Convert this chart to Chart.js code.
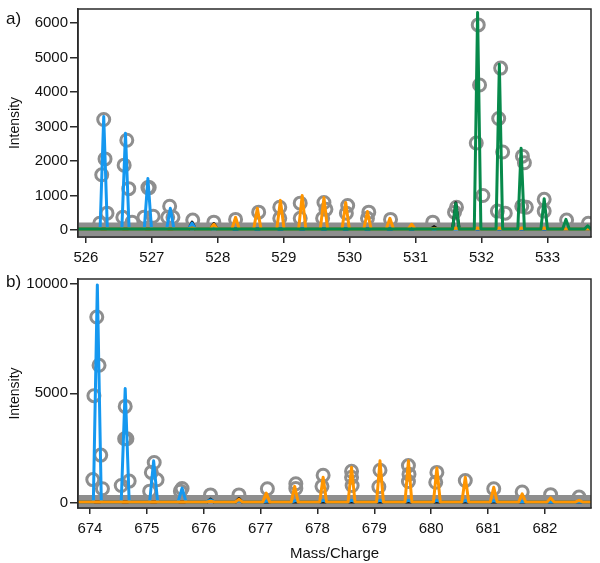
<!DOCTYPE html>
<html>
<head>
<meta charset="utf-8">
<script src="https://cdn.jsdelivr.net/npm/chart.js@4.4.0/dist/chart.umd.min.js"></script>
<style>
  body { margin: 0; background: #fff; }
  #wrap { position: relative; width: 600px; height: 563px; font-family: "Liberation Sans", Arial, sans-serif; }
  #wrap canvas { position: absolute; left: 0; }
  .tag { position: absolute; left: 6px; font-size: 17px; color: #111; line-height: 20px; }
</style>
</head>
<body>
<div id="wrap">
  <canvas id="chartA" width="600" height="270" style="top:0"></canvas>
  <canvas id="chartB" width="600" height="293" style="top:270px"></canvas>
  <div class="tag" style="top:9px">a)</div>
  <div class="tag" style="top:272px">b)</div>
</div>
<script>
// ---- panel a data ----
const xTicksA = [526, 527, 528, 529, 530, 531, 532, 533];
const yTicksA = [0, 1000, 2000, 3000, 4000, 5000, 6000];

// fitted isotope peaks (m/z, intensity)
const blueMzA = [526.27, 526.60, 526.94, 527.28, 527.61, 527.94];
const blueIntA = [3290, 2800, 1490, 630, 200, 60];
const orangeMzA = [527.61, 527.94, 528.27, 528.60, 528.95, 529.28, 529.61, 529.94, 530.27, 530.61, 530.94, 531.28, 531.61, 531.94, 532.27, 532.61, 532.95, 533.28, 533.61];
const orangeIntA = [60, 170, 370, 630, 860, 1000, 940, 800, 540, 340, 170, 50, 60, 60, 60, 60, 60, 40, 30];
const greenMzA = [531.61, 531.94, 532.27, 532.60, 532.95, 533.28, 533.61];
const greenIntA = [770, 6300, 4800, 2370, 910, 310, 120];
const blackMzA = [527.61, 527.94, 531.28, 531.61];
const blackIntA = [230, 190, 100, 790];

// observed points
const obsMzA = [526.21, 526.24, 526.27, 526.29, 526.32,
  526.56, 526.58, 526.62, 526.65, 526.70,
  526.88, 526.94, 526.96, 527.02,
  527.24, 527.27, 527.32, 527.62, 527.94,
  528.27, 528.62, 528.94, 528.94, 529.25, 529.25,
  529.59, 529.61, 529.64, 529.95, 529.97, 530.27, 530.29, 530.62, 531.26,
  531.59, 531.62, 531.92, 531.95, 531.97, 532.02,
  532.24, 532.26, 532.29, 532.32, 532.36,
  532.61, 532.62, 532.65, 532.68, 532.95, 532.95, 533.29, 533.62];
const obsIntA = [200, 1600, 3200, 2060, 490,
  370, 1880, 2600, 1200, 230,
  370, 1230, 1230, 400,
  370, 690, 370, 290, 230,
  310, 520, 660, 340, 780, 340,
  340, 800, 600, 490, 710, 340, 520, 310, 230,
  520, 660, 2520, 5940, 4200, 1000,
  550, 3230, 4690, 2260, 490,
  690, 2140, 1950, 660, 890, 550, 290, 200];

// ---- panel b data ----
const xTicksB = [674, 675, 676, 677, 678, 679, 680, 681, 682];
const yTicksB = [0, 5000, 10000];

const blueMzB = [674.13, 674.62, 675.12, 675.62, 676.12, 676.62, 677.12, 677.62, 678.10, 678.60, 679.10, 679.60, 680.10, 680.60, 681.10, 681.60];
const blueIntB = [9960, 5220, 1910, 660, 120, 80, 70, 90, 100, 100, 100, 100, 100, 90, 80, 50];
const orangeMzB = [676.12, 676.62, 677.10, 677.60, 678.10, 678.60, 679.10, 679.60, 680.10, 680.60, 681.10, 681.60, 682.10, 682.60];
const orangeIntB = [60, 150, 430, 740, 1160, 1610, 1910, 1910, 1580, 1160, 700, 400, 210, 100];
const blackMzB = [676.12, 676.62];
const blackIntB = [160, 180];

const obsMzB = [674.05, 674.07, 674.12, 674.16, 674.19, 674.22,
  674.55, 674.61, 674.62, 674.65, 674.69,
  675.05, 675.08, 675.13, 675.18, 675.59, 675.62,
  676.12, 676.62, 677.12, 677.62, 677.62,
  678.08, 678.10, 678.60, 678.60, 678.61,
  679.08, 679.10, 679.60, 679.61, 679.60,
  680.08, 680.10, 680.60, 681.10, 681.60, 682.10, 682.60];
const obsIntB = [1050, 4890, 8490, 6280, 2170, 630,
  780, 2920, 4400, 2920, 980,
  520, 1380, 1830, 1040, 520, 640,
  350, 350, 630, 860, 640,
  740, 1250, 1160, 1430, 780,
  720, 1480, 1690, 1300, 960,
  930, 1380, 1010, 630, 480, 360, 250];

const baseLevel = 30;

// build a trace: baseline with a narrow triangle at every peak
function peakTrace(mz, ints, hw, xmin, xmax) {
  const pts = [{ x: xmin, y: baseLevel }];
  mz.forEach((m, i) => {
    pts.push({ x: m - hw, y: baseLevel });
    pts.push({ x: m, y: ints[i] });
    pts.push({ x: m + hw, y: baseLevel });
  });
  pts.push({ x: xmax, y: baseLevel });
  return pts;
}

function toPoints(xs, ys) {
  return xs.map((x, i) => ({ x: x, y: ys[i] }));
}

const BLUE = "#1598f0";
const ORANGE = "#ff9500";
const GREEN = "#078a4b";
const GREY = "#8e8e8e";
const AXIS = "#2a2a2a";

Chart.defaults.font.family = '"Liberation Sans", Arial, sans-serif';
Chart.defaults.color = "#111";
Chart.defaults.animation = false;

// box around the plot area
const boxPlugin = {
  id: "box",
  afterDraw(chart) {
    const a = chart.chartArea;
    const ctx = chart.ctx;
    ctx.save();
    ctx.strokeStyle = AXIS;
    ctx.lineWidth = 1.5;
    ctx.strokeRect(a.left, a.top, a.right - a.left, a.bottom - a.top);
    ctx.restore();
  }
};

function lineSet(pts, color) {
  return {
    data: pts, showLine: true, borderColor: color, borderWidth: 3, pointRadius: 0,
    fill: false, tension: 0, borderJoinStyle: "round", borderCapStyle: "round"
  };
}

function makeChart(id, cfg) {
  const datasets = [];
  cfg.lines.forEach((l) => datasets.push(lineSet(l.pts, l.color)));
  // observed points
  datasets.push({
    data: cfg.obs, showLine: false, pointRadius: 6, pointBorderWidth: 3,
    pointBorderColor: GREY, pointBackgroundColor: "rgba(0,0,0,0)"
  });
  // dense baseline points appear as a thick grey band
  datasets.push({
    data: [{ x: cfg.xmin, y: 0 }, { x: cfg.xmax, y: 0 }], showLine: true,
    borderColor: GREY, borderWidth: 15, pointRadius: 0, clip: 0
  });

  return new Chart(document.getElementById(id).getContext("2d"), {
    type: "scatter",
    data: { datasets: datasets },
    options: {
      responsive: false,
      layout: { padding: { top: 3, right: 7, left: 0, bottom: 0 } },
      plugins: { legend: { display: false }, tooltip: { enabled: false } },
      scales: {
        x: {
          type: "linear", min: cfg.xmin, max: cfg.xmax,
          afterBuildTicks: (s) => { s.ticks = cfg.xTicks.map((v) => ({ value: v })); },
          afterFit: (s) => { s.height = cfg.xHeight; },
          grid: { drawOnChartArea: false, drawTicks: true, tickLength: 6, color: AXIS, lineWidth: 1.5 },
          border: { display: true, color: AXIS, width: 1.5 },
          ticks: { font: { size: 15 }, padding: 6, maxRotation: 0, callback: (v) => String(v) },
          title: { display: !!cfg.xTitle, text: cfg.xTitle || "", font: { size: 15 }, padding: { top: 0, bottom: 0 } }
        },
        y: {
          type: "linear", min: cfg.ymin, max: cfg.ymax,
          afterBuildTicks: (s) => { s.ticks = cfg.yTicks.map((v) => ({ value: v })); },
          afterFit: (s) => { s.width = 78; },
          grid: { drawOnChartArea: false, drawTicks: true, tickLength: 8, color: AXIS, lineWidth: 1.5 },
          border: { display: true, color: AXIS, width: 1.5 },
          ticks: { font: { size: 15, lineHeight: 0.4 }, padding: 2, callback: (v) => String(v) },
          title: { display: true, text: "Intensity", font: { size: 14 }, padding: { top: 7, bottom: 0 } }
        }
      }
    },
    plugins: [boxPlugin]
  });
}

window.addEventListener("load", () => {
  const xminA = 525.88, xmaxA = 533.66;
  makeChart("chartA", {
    xmin: xminA, xmax: xmaxA, ymin: -200, ymax: 6400,
    xTicks: xTicksA, yTicks: yTicksA, xHeight: 33,
    lines: [
      { pts: peakTrace(greenMzA, greenIntA, 0.05, xminA, xmaxA), color: GREEN },
      { pts: peakTrace(orangeMzA, orangeIntA, 0.055, xminA, xmaxA), color: ORANGE },
      { pts: peakTrace(blueMzA, blueIntA, 0.055, xminA, xmaxA), color: BLUE },
      { pts: peakTrace(blackMzA, blackIntA, 0.05, xminA, xmaxA), color: "#111" }
    ],
    obs: toPoints(obsMzA, obsIntA)
  });

  const xminB = 673.79, xmaxB = 682.81;
  makeChart("chartB", {
    xmin: xminB, xmax: xmaxB, ymin: -250, ymax: 10230,
    xTicks: xTicksB, yTicks: yTicksB, xHeight: 55, xTitle: "Mass/Charge",
    lines: [
      { pts: peakTrace(orangeMzB, orangeIntB, 0.06, xminB, xmaxB), color: ORANGE },
      { pts: peakTrace(blueMzB, blueIntB, 0.07, xminB, xmaxB), color: BLUE },
      { pts: peakTrace(blackMzB, blackIntB, 0.055, xminB, xmaxB), color: "#111" }
    ],
    obs: toPoints(obsMzB, obsIntB)
  });
});
</script>
</body>
</html>
